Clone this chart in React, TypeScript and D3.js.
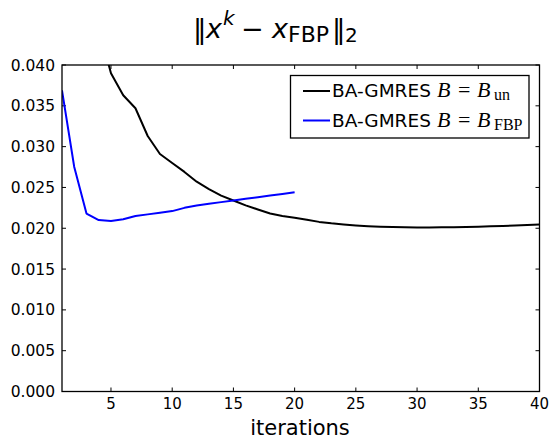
import React from 'react';
import * as d3 from 'd3';

// iterations / values
const iterUn = [4, 5, 6, 7, 8, 9, 10, 11, 12, 13, 14, 15, 16, 17, 18, 19, 20, 21, 22, 23, 24, 25, 26, 27, 28, 29, 30, 31, 32, 33, 34, 35, 36, 37, 38, 39, 40];
const errUn = [0.0445, 0.039, 0.0363, 0.0347, 0.0313, 0.0291, 0.028, 0.0269, 0.0257, 0.0248, 0.024, 0.0234, 0.0228, 0.0223, 0.0218, 0.0215, 0.0213, 0.02105, 0.02078, 0.0206, 0.02046, 0.02035, 0.02026, 0.02019, 0.02014, 0.02011, 0.0201, 0.0201, 0.02011, 0.02013, 0.02016, 0.02019, 0.02023, 0.02028, 0.02034, 0.0204, 0.02047];
const iterFbp = [1, 2, 3, 4, 5, 6, 7, 8, 9, 10, 11, 12, 13, 14, 15, 16, 17, 18, 19, 20];
const errFbp = [0.0369, 0.0275, 0.0218, 0.021, 0.0209, 0.0211, 0.0215, 0.0217, 0.0219, 0.0221, 0.0225, 0.0228, 0.023, 0.0232, 0.0234, 0.0236, 0.0238, 0.024, 0.0242, 0.0244];
const xTicks = [5, 10, 15, 20, 25, 30, 35, 40];
const yTicks = [0, 0.005, 0.01, 0.015, 0.02, 0.025, 0.03, 0.035, 0.04];

const W = 551, H = 439;
const left = 62, right = 539.5, top = 65, bottom = 391.5;

function LegendRow({ y0, color, sub }: { y0: number; color: string; sub: string }) {
  const serif = 'Liberation Serif';
  return (
    <g>
      <line x1={303} x2={330} y1={y0 - 6} y2={y0 - 6} stroke={color} strokeWidth={2} />
      <text x={332} y={y0} fontFamily="DejaVu Sans" fontSize={18.5} fill="#000">BA-GMRES</text>
      <text y={y0} fontFamily={serif} fontSize={22} fill="#000">
        <tspan x={437} fontStyle="italic">B</tspan>
        <tspan x={458}>=</tspan>
        <tspan x={477} fontStyle="italic">B</tspan>
        <tspan x={494} dy={3} fontSize={16}>{sub}</tspan>
      </text>
    </g>
  );
}

export default function App() {
  const x = d3.scaleLinear().domain([1, 40]).range([left, right]);
  const y = d3.scaleLinear().domain([0, 0.04]).range([bottom, top]);
  const line = d3.line<[number, number]>().x(d => x(d[0])).y(d => y(d[1]));
  const un = iterUn.map((k, i) => [k, errUn[i]] as [number, number]);
  const fbp = iterFbp.map((k, i) => [k, errFbp[i]] as [number, number]);
  const sans = 'DejaVu Sans';

  return (
    <svg width={W} height={H} style={{ position: 'absolute', left: 0, top: 0, background: '#fff' }}>
      <defs>
        <clipPath id="plot">
          <rect x={left} y={top} width={right - left} height={bottom - top} />
        </clipPath>
      </defs>

      {/* title */}
      <text y={38} fontFamily={sans} fontSize={27} fill="#000">
        <tspan x={193}>‖</tspan>
        <tspan x={206} fontStyle="italic">x</tspan>
        <tspan x={223} y={25} fontSize={20} fontStyle="italic">k</tspan>
        <tspan x={241} y={38}>−</tspan>
        <tspan x={272} fontStyle="italic">x</tspan>
        <tspan x={288} y={41.7} fontSize={22}>FBP</tspan>
        <tspan x={332} y={38}>‖</tspan>
        <tspan x={345} y={42} fontSize={20}>2</tspan>
      </text>

      {/* ticks */}
      {xTicks.map(t => (
        <g key={'x' + t}>
          <line x1={x(t)} x2={x(t)} y1={bottom} y2={bottom - 4} stroke="#000" />
          <line x1={x(t)} x2={x(t)} y1={top} y2={top + 4} stroke="#000" />
          <text x={x(t)} y={409} textAnchor="middle" fontFamily={sans} fontSize={15} fill="#000">{t}</text>
        </g>
      ))}
      {yTicks.map(t => (
        <g key={'y' + t}>
          <line x1={left} x2={left + 4} y1={y(t)} y2={y(t)} stroke="#000" />
          <line x1={right} x2={right - 4} y1={y(t)} y2={y(t)} stroke="#000" />
          <text x={55} y={y(t) + 5.5} textAnchor="end" fontFamily={sans} fontSize={15.5} fill="#000">{d3.format('.3f')(t)}</text>
        </g>
      ))}

      {/* series */}
      <g clipPath="url(#plot)">
        <path d={line(un) ?? ''} fill="none" stroke="#000" strokeWidth={2} strokeLinejoin="round" />
        <path d={line(fbp) ?? ''} fill="none" stroke="#0000ff" strokeWidth={2} strokeLinejoin="round" />
      </g>

      <rect x={left} y={top} width={right - left} height={bottom - top} fill="none" stroke="#000" strokeWidth={1.3} />

      {/* legend */}
      <rect x={290.5} y={75.5} width={238.5} height={62.5} fill="#fff" stroke="#000" strokeWidth={1.3} />
      <LegendRow y0={97} color="#000" sub="un" />
      <LegendRow y0={126.5} color="#0000ff" sub="FBP" />

      <text x={300} y={435} textAnchor="middle" fontFamily={sans} fontSize={21} fill="#000">iterations</text>
    </svg>
  );
}
